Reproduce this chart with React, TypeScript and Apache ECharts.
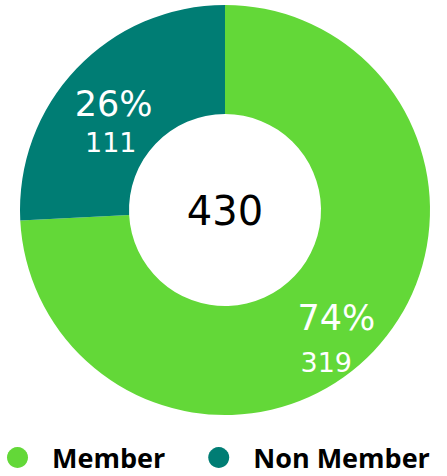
import React, { useEffect, useRef } from "react";
import * as echarts from "echarts";

const categories = ["Member", "Non Member"];
const values = [319, 111];
const percents = ["74%", "26%"];
const colors = ["#63D838", "#007D74"];
const totalLabel = "430";

export default function App() {
  const ref = useRef<HTMLDivElement>(null);
  useEffect(() => {
    if (!ref.current) return;
    const chart = echarts.init(ref.current, undefined, { renderer: "svg" });
    const labelCfg = [
      { offset: [0, 28], vH: 52, vPad: [0, 20, 0, 0] },
      { offset: [0, 19], vH: 38, vPad: [0, 6, 0, 0] },
    ];
    const data = categories.map((name, i) => ({
      name,
      value: values[i],
      itemStyle: { color: colors[i] },
      label: {
        offset: labelCfg[i].offset,
        formatter: `{p|${percents[i]}}\n{v|${values[i]}}`,
        rich: {
          p: { fontSize: 35, lineHeight: 38, color: "#fff", fontFamily: "DejaVu Sans" },
          v: { fontSize: 27, lineHeight: labelCfg[i].vH, color: "#fff", fontFamily: "DejaVu Sans", padding: labelCfg[i].vPad },
        },
      },
    }));
    chart.setOption({
      animation: false,
      legend: {
        data: categories,
        left: 7,
        top: 444,
        padding: 0,
        icon: "circle",
        itemWidth: 21,
        itemHeight: 21,
        itemGap: 43,
        textStyle: {
          fontFamily: "Open Sans",
          fontWeight: "bold",
          fontSize: 27,
          color: "#000",
          padding: [0, 0, 0, 19],
        },
      },
      graphic: [
        {
          type: "text",
          x: 225,
          y: 211,
          style: {
            text: totalLabel,
            fontFamily: "DejaVu Sans",
            fontSize: 40,
            fill: "#000",
            textAlign: "center",
            textVerticalAlign: "middle",
          },
        },
      ],
      series: [
        {
          type: "pie",
          center: [225, 210],
          radius: [96, 205],
          startAngle: 90,
          clockwise: true,
          avoidLabelOverlap: false,
          label: { show: true, position: "inside" },
          labelLine: { show: false },
          emphasis: { disabled: true },
          data,
        },
      ],
    });
    return () => chart.dispose();
  }, []);
  return (
    <div
      ref={ref}
      style={{ position: "fixed", left: 0, top: 0, width: 447, height: 476, background: "#fff" }}
    />
  );
}
